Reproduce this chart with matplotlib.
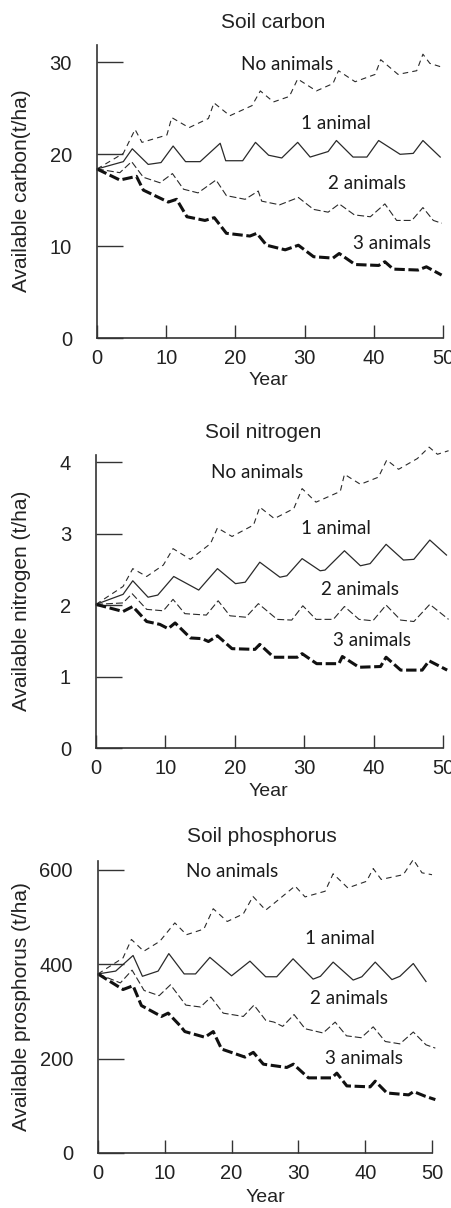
import matplotlib
matplotlib.use("Agg")
import matplotlib.pyplot as plt

# ---- data (year, value) ----

# Soil carbon (t/ha)
c_none_x = [0, 3.8, 5.5, 6.5, 10.1, 10.8, 13.3, 16.1, 16.9, 19.2, 22.4, 23.6, 25.5, 27.8, 29.0, 31.7, 34.1, 34.9, 37.3, 40.2, 41.0, 43.5, 46.2, 47.1, 48.1, 49.8]
c_none_y = [18.4, 20.1, 22.7, 21.3, 22.1, 24.0, 22.9, 23.9, 25.6, 24.2, 25.3, 26.9, 25.7, 26.3, 28.2, 26.9, 27.7, 29.1, 27.9, 28.7, 30.3, 28.7, 29.1, 30.9, 29.9, 29.5]
c_one_x = [0, 3.8, 5.1, 7.4, 9.25, 11.0, 12.8, 14.9, 17.8, 18.6, 21.05, 22.9, 24.8, 26.7, 29.0, 30.8, 33.4, 34.6, 37.0, 39.0, 40.7, 43.8, 45.7, 47.1, 49.6]
c_one_y = [18.4, 19.2, 20.6, 18.9, 19.1, 20.9, 19.2, 19.2, 21.2, 19.3, 19.3, 21.3, 19.9, 19.6, 21.3, 19.7, 20.3, 21.5, 19.7, 19.7, 21.5, 20.0, 20.1, 21.5, 19.7]
c_two_x = [0, 3.3, 5.0, 6.7, 9.1, 10.9, 12.5, 14.6, 17.2, 18.7, 21.4, 23.3, 23.8, 26.4, 29.1, 31.3, 33.4, 35.0, 37.2, 39.5, 41.6, 43.3, 45.5, 47.1, 48.6, 49.8]
c_two_y = [18.4, 18.0, 19.2, 17.5, 16.9, 17.9, 16.2, 15.8, 17.2, 15.5, 15.1, 16.0, 14.9, 14.5, 15.3, 14.0, 13.7, 14.6, 13.4, 13.2, 14.6, 12.8, 12.8, 14.2, 12.8, 12.5]
c_three_x = [0, 3.3, 5.7, 6.7, 10.3, 11.5, 13.0, 15.6, 16.95, 18.7, 22.1, 23.1, 24.5, 27.2, 29.1, 31.3, 34.1, 35.0, 37.3, 40.7, 41.6, 42.8, 46.4, 47.6, 49.8]
c_three_y = [18.4, 17.2, 17.6, 16.1, 14.8, 15.1, 13.2, 12.8, 13.1, 11.4, 11.1, 11.4, 10.1, 9.6, 10.1, 8.85, 8.7, 9.2, 8.0, 7.9, 8.3, 7.5, 7.4, 7.75, 6.85]

# Soil nitrogen (t/ha)
n_none_x = [0, 3.9, 5.3, 7.3, 9.7, 11.1, 13.6, 16.5, 17.5, 19.6, 22.7, 23.6, 25.7, 28.5, 29.7, 31.7, 35.2, 35.8, 38.1, 40.7, 41.9, 43.6, 46.3, 48.0, 49.2, 50.8]
n_none_y = [2.01, 2.26, 2.51, 2.40, 2.56, 2.79, 2.64, 2.86, 3.08, 2.96, 3.12, 3.37, 3.21, 3.35, 3.63, 3.44, 3.59, 3.83, 3.69, 3.79, 4.03, 3.90, 4.05, 4.21, 4.11, 4.16]
n_one_x = [0, 3.9, 5.3, 7.5, 8.9, 11.2, 14.8, 17.5, 20.1, 21.5, 23.6, 26.5, 27.5, 29.7, 32.3, 33.0, 35.8, 38.1, 39.5, 41.8, 44.3, 45.8, 48.1, 50.5]
n_one_y = [2.01, 2.15, 2.34, 2.11, 2.14, 2.40, 2.21, 2.51, 2.30, 2.32, 2.60, 2.39, 2.41, 2.65, 2.48, 2.49, 2.76, 2.55, 2.58, 2.85, 2.63, 2.64, 2.91, 2.70]
n_two_x = [0, 3.9, 5.2, 7.3, 9.7, 11.1, 12.8, 15.9, 17.6, 19.3, 21.6, 23.4, 26.1, 28.2, 29.8, 31.7, 34.2, 35.8, 37.9, 39.9, 41.8, 43.9, 45.8, 48.1, 50.8]
n_two_y = [2.01, 2.03, 2.16, 1.94, 1.92, 2.08, 1.88, 1.86, 2.06, 1.85, 1.83, 2.02, 1.80, 1.79, 1.99, 1.80, 1.80, 1.98, 1.80, 1.78, 2.00, 1.79, 1.77, 2.01, 1.80]
n_three_x = [0, 3.9, 5.3, 7.3, 9.2, 10.4, 11.4, 13.6, 15.3, 16.2, 17.5, 19.6, 22.9, 23.6, 25.6, 29.0, 29.7, 31.8, 35.0, 35.5, 37.9, 41.0, 41.8, 43.9, 47.0, 48.0, 50.6]
n_three_y = [2.01, 1.91, 1.98, 1.77, 1.73, 1.67, 1.75, 1.54, 1.53, 1.49, 1.57, 1.39, 1.38, 1.45, 1.27, 1.27, 1.32, 1.18, 1.18, 1.28, 1.13, 1.14, 1.27, 1.09, 1.09, 1.22, 1.09]

# Soil phosphorus (t/ha)
p_none_x = [0, 3.75, 5.0, 6.85, 9.25, 11.5, 13.25, 15.85, 17.25, 19.35, 21.75, 23.2, 25.1, 26.75, 29.5, 31.0, 34.0, 35.2, 37.4, 40.2, 41.2, 42.4, 45.7, 47.2, 48.5, 50.0]
p_none_y = [379, 413, 452, 427, 448, 487, 462, 474, 517, 490, 506, 543, 514, 533, 565, 542, 554, 591, 561, 575, 602, 579, 589, 621, 593, 589]
p_one_x = [0, 2.65, 5.25, 6.65, 9.0, 10.6, 12.9, 14.6, 16.75, 20.0, 22.75, 25.1, 26.75, 29.2, 32.2, 33.3, 35.2, 38.2, 39.5, 41.5, 44.0, 45.2, 47.2, 49.1]
p_one_y = [379, 385, 418, 374, 385, 422, 379, 379, 414, 375, 406, 373, 373, 411, 368, 374, 404, 366, 373, 404, 367, 374, 401, 363]
p_two_x = [0, 3.35, 5.1, 6.9, 9.15, 10.85, 13.15, 15.35, 16.9, 18.75, 21.75, 23.35, 25.1, 26.35, 27.65, 29.35, 31.0, 33.7, 35.5, 37.2, 39.4, 41.2, 43.0, 45.2, 47.2, 49.1, 50.5]
p_two_y = [379, 360, 387, 344, 333, 356, 313, 309, 330, 296, 289, 313, 281, 277, 268, 293, 263, 254, 277, 248, 244, 267, 236, 231, 256, 229, 222]
p_three_x = [0, 3.75, 5.25, 6.5, 9.5, 10.5, 12.25, 13.0, 16.0, 17.25, 18.5, 22.0, 23.25, 24.75, 28.25, 29.25, 31.5, 35.0, 35.75, 37.25, 40.75, 41.5, 43.25, 46.5, 47.25, 49.0, 50.5]
p_three_y = [379, 346, 354, 312, 289, 296, 270, 257, 245, 257, 220, 203, 213, 188, 181, 188, 159, 159, 169, 142, 140, 152, 127, 123, 130, 120, 113]

series_names = ["No animals", "1 animal", "2 animals", "3 animals"]

# panel texts
titles = ["Soil carbon", "Soil nitrogen", "Soil phosphorus"]
ylabels = ["Available carbon(t/ha)", "Available nitrogen (t/ha)", "Available prosphorus (t/ha)"]
yticks = [[0, 10, 20, 30], [0, 1, 2, 3, 4], [0, 200, 400, 600]]
xticks = [0, 10, 20, 30, 40, 50]
ytops = [31.9, 4.1, 618]

# where the series names sit (year, value)
label_pos = [
    [(27.5, 29.8), (34.5, 23.4), (39.0, 16.8), (42.6, 10.3)],
    [(23.2, 3.85), (34.6, 3.07), (38.1, 2.22), (39.8, 1.50)],
    [(20.1, 596), (36.2, 455), (37.6, 328), (39.8, 201)],
]

panels = [
    [(c_none_x, c_none_y), (c_one_x, c_one_y), (c_two_x, c_two_y), (c_three_x, c_three_y)],
    [(n_none_x, n_none_y), (n_one_x, n_one_y), (n_two_x, n_two_y), (n_three_x, n_three_y)],
    [(p_none_x, p_none_y), (p_one_x, p_one_y), (p_two_x, p_two_y), (p_three_x, p_three_y)],
]

plt.rcParams['font.family'] = ['Liberation Sans', 'DejaVu Sans']
plt.rcParams['lines.scale_dashes'] = False

W, H = 452, 1208
fig = plt.figure(figsize=(W / 100, H / 100), dpi=100)

# axes boxes in pixels: left, right, bottom, top
boxes = [(97, 443, 338, 45), (96, 443, 748, 455), (98, 432, 1153, 861)]
title_xy = [(273, 22), (263, 432), (262, 837)]
year_xy = [(268, 381), (268, 792), (265, 1197)]
ylab_y = [191, 601, 1007]

styles = [
    dict(color='#2a2a2a', lw=0.8, dashes=(4.0, 3.0)),
    dict(color='#2a2a2a', lw=0.9),
    dict(color='#2a2a2a', lw=0.8, dashes=(5.0, 2.2)),
    dict(color='#111111', lw=2.2, dashes=(7.5, 2.6)),
]

for i in range(3):
    l, r, b, t = boxes[i]
    ax = fig.add_axes([l / W, 1 - b / H, (r - l) / W, (b - t) / H])

    for (xs, ys), st in zip(panels[i], styles):
        ax.plot(xs, ys, clip_on=False, **st)

    for name, (tx, ty) in zip(series_names, label_pos[i]):
        ax.text(tx, ty, name, fontsize=13.6, family='Lato', color='#1a1a1a',
                ha='center', va='center')

    ax.set_xlim(0, 50)
    ax.set_ylim(0, ytops[i])
    ax.set_xticks(xticks)
    ax.set_yticks(yticks[i])

    for s in ['top', 'right']:
        ax.spines[s].set_visible(False)
    for s in ['left', 'bottom']:
        ax.spines[s].set_color('#333333')
        ax.spines[s].set_linewidth(1.2)

    ax.tick_params(axis='y', direction='in', length=18.5, width=1.0, color='#333333',
                   pad=18, labelsize=14.5, labelcolor='#222222')
    ax.tick_params(axis='x', direction='in', length=9.5, width=1.0, color='#333333',
                   pad=8, labelsize=14.5, labelcolor='#222222')

    fig.text(title_xy[i][0] / W, 1 - title_xy[i][1] / H, titles[i], fontsize=15,
             ha='center', va='center', color='#222222')
    fig.text(year_xy[i][0] / W, 1 - year_xy[i][1] / H, "Year", fontsize=14,
             ha='center', va='center', color='#222222')
    fig.text(22 / W, 1 - ylab_y[i] / H, ylabels[i], fontsize=15, rotation=90,
             ha='center', va='center', color='#222222')

fig.savefig("out.png", dpi=100)
